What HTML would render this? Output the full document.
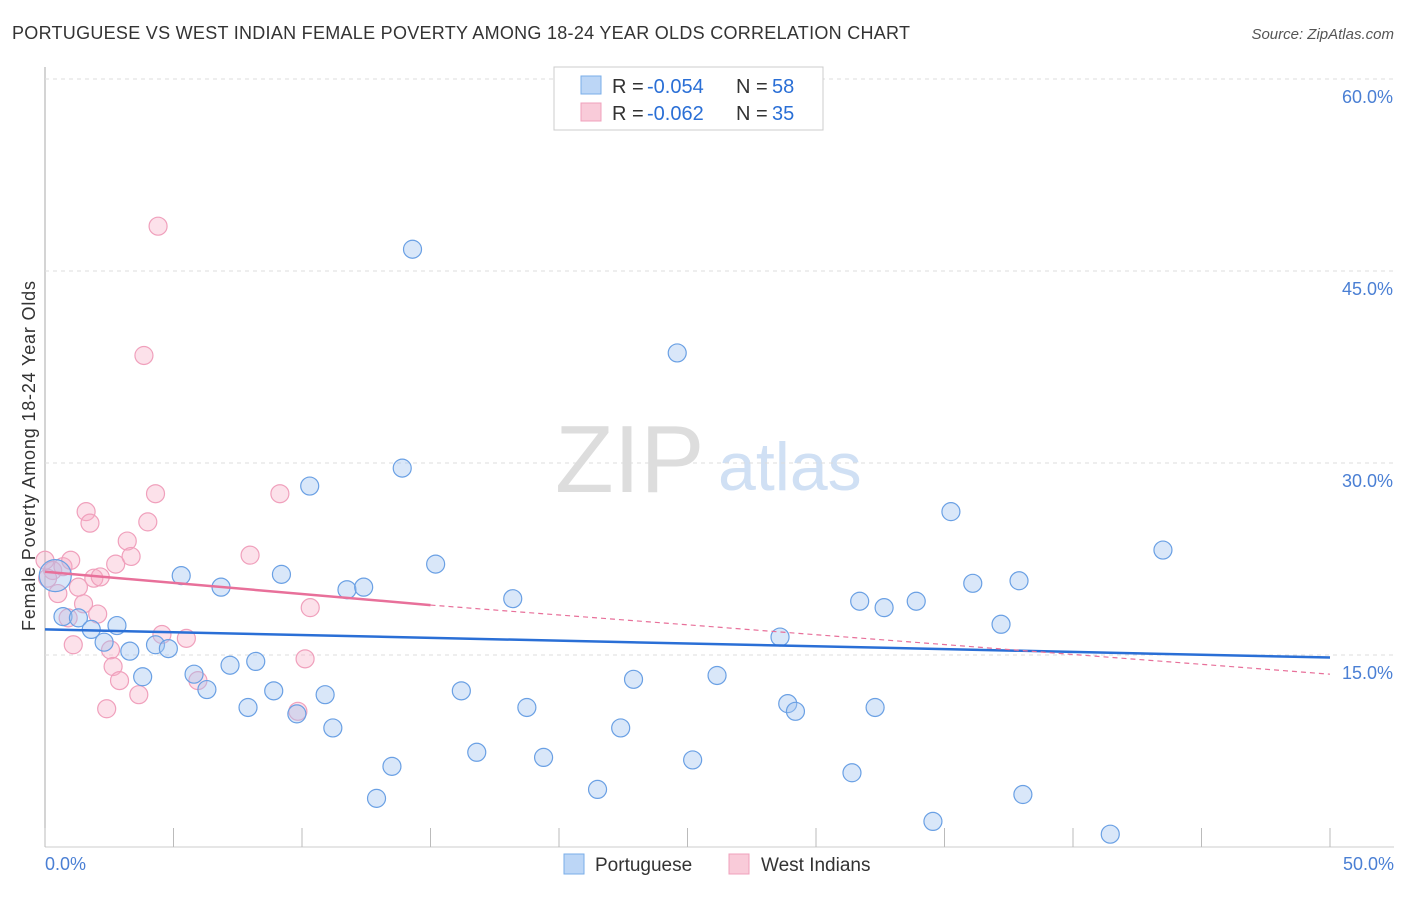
<!DOCTYPE html>
<html><head><meta charset="utf-8"><style>
body{margin:0;background:#fff;font-family:"Liberation Sans",sans-serif;}
svg text{font-family:"Liberation Sans",sans-serif;}
</style></head><body>
<svg id="c" width="1406" height="892">
<text x="12" y="39" font-size="18" fill="#333" textLength="898">PORTUGUESE VS WEST INDIAN FEMALE POVERTY AMONG 18-24 YEAR OLDS CORRELATION CHART</text>
<text x="1394" y="39" font-size="15" fill="#555" font-style="italic" text-anchor="end">Source: ZipAtlas.com</text>
<text x="35" y="456" font-size="18" fill="#333" text-anchor="middle" transform="rotate(-90 35 456)" textLength="350">Female Poverty Among 18-24 Year Olds</text>
<text x="555" y="492" font-size="96" fill="#ddd" font-family="Liberation Serif">ZIP</text>
<text x="718" y="490" font-size="68" fill="#d0e0f4">atlas</text>
<g id="grid"></g><g id="pts"></g><g id="lines"></g>
<g>
<rect x="554" y="67" width="269" height="63" fill="#fff" stroke="#ccc"/>
<rect x="581" y="76" width="20" height="18" fill="#bcd6f6" stroke="#7aaee8"/>
<rect x="581" y="103" width="20" height="18" fill="#f9cbd9" stroke="#f0a0bc"/>
<text x="612" y="93" font-size="20" fill="#333">R = </text>
<text x="647" y="93" font-size="20" fill="#2a6fd6">-0.054</text>
<text x="736" y="93" font-size="20" fill="#333">N = </text>
<text x="772" y="93" font-size="20" fill="#2a6fd6">58</text>
<text x="612" y="120" font-size="20" fill="#333">R = </text>
<text x="647" y="120" font-size="20" fill="#2a6fd6">-0.062</text>
<text x="736" y="120" font-size="20" fill="#333">N = </text>
<text x="772" y="120" font-size="20" fill="#2a6fd6">35</text>
</g>
<g>
<rect x="564" y="854" width="20" height="20" fill="#bcd6f6" stroke="#7aaee8"/>
<text x="595" y="871" font-size="19" fill="#333">Portuguese</text>
<rect x="729" y="854" width="20" height="20" fill="#f9cbd9" stroke="#f0a0bc"/>
<text x="761" y="871" font-size="19" fill="#333">West Indians</text>
</g>
</svg>
<script>
const xTicks=[0,5,10,15,20,25,30,35,40,45,50];
const yTicks=[15,30,45,60];
const blueX=[0.4,0.7,1.3,1.8,2.3,2.8,3.3,3.8,4.3,4.8,5.3,5.8,6.3,6.85,7.2,7.9,8.2,8.9,9.2,9.8,10.3,10.9,11.2,11.75,12.4,12.9,13.5,13.9,14.3,15.2,16.2,16.8,18.2,18.75,19.4,21.5,22.4,22.9,24.6,25.2,26.15,28.6,28.9,29.2,31.4,31.7,32.3,32.65,33.9,34.55,35.25,36.1,37.2,37.9,38.05,41.45,43.5,25.6];
const blueY=[21.2,18.0,17.9,17.0,16.0,17.3,15.3,13.3,15.8,15.5,21.2,13.5,12.3,20.3,14.2,10.9,14.5,12.2,21.3,10.4,28.2,11.9,9.3,20.1,20.3,3.8,6.3,29.6,46.7,22.1,12.2,7.4,19.4,10.9,7.0,4.5,9.3,13.1,38.6,6.8,13.4,16.4,11.2,10.6,5.8,19.2,10.9,18.7,19.2,2.0,26.2,20.6,17.4,20.8,4.1,1.0,23.2,57.2];
const pinkX=[0,0.3,0.5,0.7,0.9,1.0,1.1,1.3,1.5,1.6,1.75,1.9,2.05,2.15,2.4,2.55,2.65,2.75,2.9,3.2,3.35,3.65,3.85,4.0,4.3,4.4,4.55,5.5,5.95,7.98,9.14,9.84,10.12,10.32,0.1];
const pinkY=[22.4,21.6,19.8,21.9,17.9,22.4,15.8,20.3,19.0,26.2,25.3,21.0,18.2,21.1,10.8,15.4,14.1,22.1,13.0,23.9,22.7,11.9,38.4,25.4,27.6,48.5,16.6,16.3,13.0,22.8,27.6,10.6,14.7,18.7,21.0];
const NS='http://www.w3.org/2000/svg';
const X=v=>45+v*25.7, Y=v=>847-v*12.8;
function mk(t,a,p){const e=document.createElementNS(NS,t);for(const k in a)e.setAttribute(k,a[k]);p.appendChild(e);return e;}
const grid=document.getElementById('grid'),pts=document.getElementById('pts'),lines=document.getElementById('lines');
let ax=mk('line',{x1:45,y1:67,x2:45,y2:847,stroke:'#aaa'},grid);


let bx=mk('line',{x1:45,y1:847,x2:1394,y2:847,stroke:'#ccc'},grid);


yTicks.forEach(t=>{
 let g=mk('line',{x1:45,x2:1394,y1:Y(t),y2:Y(t),stroke:'#ddd','stroke-dasharray':'4,4'},grid);
 
 
 let tx=mk('text',{x:1393,y:Y(t)+24,'font-size':18,fill:'#4a7fd4','text-anchor':'end'},grid);tx.textContent=t.toFixed(1)+'%';
 
 
});
xTicks.forEach(t=>{
 let l=mk('line',{x1:X(t),x2:X(t),y1:847,y2:828,stroke:'#bbb'},grid);
 
 
});
[[0,'0.0%','start',45],[50,'50.0%','end',1394]].forEach(a=>{
 let tx=mk('text',{x:a[3],y:870,'font-size':18,fill:'#4a7fd4','text-anchor':a[2]},grid);tx.textContent=a[1];
 
 
});
pinkX.forEach((v,i)=>{
 let c=mk('circle',{cx:X(v),cy:Y(pinkY[i]),r:9,fill:'rgba(245,170,195,0.35)',stroke:'#f0a0bc','stroke-width':1.2},pts);
 
 
});
blueX.forEach((v,i)=>{
 let c=mk('circle',{cx:X(v),cy:Y(blueY[i]),r:i==0?16:9,fill:'rgba(160,196,240,0.4)',stroke:'#6aa0e4','stroke-width':1.2},pts);
 
 
});
let bl=mk('line',{x1:X(0),y1:Y(17.0),x2:X(50),y2:Y(14.8),stroke:'#2a6fd6','stroke-width':2.5},lines);


let pl=mk('line',{x1:X(0),y1:Y(21.5),x2:X(15),y2:Y(18.9),stroke:'#e8709a','stroke-width':2.5},lines);


let pd=mk('line',{x1:X(15),y1:Y(18.9),x2:X(50),y2:Y(13.5),stroke:'#e8709a','stroke-width':1.2,'stroke-dasharray':'5,4'},lines);


</script>
</body></html>
